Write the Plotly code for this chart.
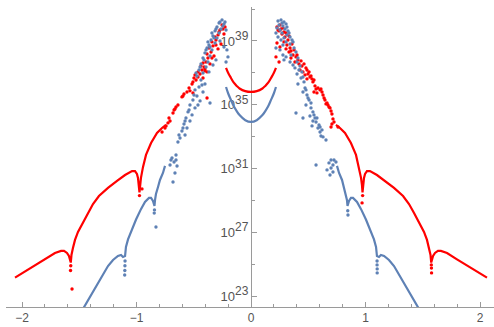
import numpy as np
import plotly.graph_objects as go

BLUE = "#5E81B5"
RED = "#FF0000"

# ---- smooth central U branches (x >= 0 half; mirrored for x < 0), values are log10(y)
u_x = [0.0, 0.05, 0.10, 0.125, 0.15, 0.175, 0.20, 0.218]
red_u_log = [35.80, 35.85, 36.02, 36.18, 36.38, 36.68, 37.00, 37.31]
blue_u_log = [33.92, 34.03, 34.35, 34.60, 34.90, 35.30, 35.72, 36.11]

# ---- outer tails (x > 0 half; mirrored for x < 0)
red_tail_x = [0.742, 0.777, 0.821, 0.873, 0.917, 0.943, 0.961, 0.969, 0.974, 0.987, 0.996,
              1.013, 1.039, 1.100, 1.170, 1.249, 1.328, 1.380, 1.424, 1.467, 1.511, 1.537,
              1.555, 1.568, 1.574, 1.590, 1.607, 1.633, 1.659, 1.712, 1.799, 1.886, 1.974, 2.061]
red_tail_log = [33.73, 33.54, 33.23, 32.60, 31.85, 31.10, 30.41, 29.97, 29.50, 30.41, 30.66,
                30.84, 30.84, 30.59, 30.22, 29.78, 29.27, 28.77, 28.21, 27.64, 27.02, 26.52,
                26.01, 25.57, 25.10, 25.51, 25.70, 25.83, 25.83, 25.70, 25.30, 24.90, 24.55, 24.15]

blue_tail_x = [0.751, 0.769, 0.795, 0.812, 0.830, 0.838, 0.843, 0.856, 0.873, 0.891, 0.926,
               0.961, 1.004, 1.048, 1.074, 1.092, 1.100, 1.118, 1.135, 1.162, 1.205, 1.249,
               1.301, 1.362, 1.415, 1.467, 1.493]
blue_tail_log = [31.16, 30.72, 30.28, 29.84, 29.40, 29.03, 28.65, 28.96, 29.15, 29.15, 28.90,
                 28.45, 27.80, 27.05, 26.55, 26.08, 25.51, 25.45, 25.57, 25.51, 25.26, 24.88,
                 24.26, 23.44, 22.81, 22.19, 21.87]

# ---- scattered points
red_pts_x = [0.227, 0.253, 0.279, 0.245, 0.271, 0.306, 0.297, 0.227, 0.253, 0.288, 0.323, 0.314,
             0.341, 0.358, 0.376, 0.332, 0.367, 0.393, 0.349, 0.410, 0.384, 0.419, 0.445, 0.428,
             0.454, 0.480, 0.472, 0.498, 0.515, 0.489, 0.533, 0.218, 0.245, 0.541,
             0.550, 0.568, 0.585, 0.603, 0.620, 0.629, 0.638, 0.646,
             0.655, 0.664, 0.672, 0.690, 0.699, 0.707, 0.699, 0.707, 0.725,
             0.236, 0.262, 0.288, 0.332, 0.306, 0.349, 0.402, 0.437, 0.463, 0.489,
             0.507, 0.524, 0.550, 0.559, 0.611, 0.576, 0.681, 0.716, 0.760,
             0.975, 0.970, 1.575, 1.576, 1.577,
             -0.227, -0.253, -0.271, -0.236, -0.288, -0.306, -0.262, -0.332, -0.288, -0.349,
             -0.323, -0.376, -0.393, -0.358, -0.410, -0.428, -0.384, -0.445, -0.463, -0.419,
             -0.480, -0.507, -0.384, -0.402, -0.489,
             -0.507, -0.533, -0.559, -0.585, -0.603,
             -0.638, -0.655, -0.672, -0.681, -0.707, -0.725, -0.742,
             -0.245, -0.279, -0.314, -0.341, -0.306, -0.367, -0.384, -0.341, -0.419, -0.437,
             -0.402, -0.463, -0.498, -0.515, -0.541, -0.594, -0.664, -0.716, -0.751, -0.777,
             -0.974, -0.952, -1.574, -1.576, -1.563]
red_pts_log = [39.88, 40.00, 39.82, 39.63, 39.44, 39.50, 39.25, 38.87, 38.62, 38.94, 39.06, 38.75,
               38.56, 38.81, 38.44, 38.31, 38.12, 38.00, 37.93, 37.81, 37.68, 37.56, 37.43, 37.18,
               37.06, 37.31, 36.87, 36.93, 36.74, 36.62, 36.62, 38.00, 37.68, 36.43,
               35.80, 35.99, 36.05, 35.93, 35.80, 35.61, 35.42, 35.30,
               35.05, 35.11, 34.98, 34.80, 34.61, 34.42, 33.60, 33.79, 33.92,
               39.69, 39.75, 39.56, 39.31, 38.50, 38.37, 38.12, 37.75, 37.56, 37.18,
               37.06, 36.80, 36.55, 36.18, 35.99, 35.74, 34.86, 34.11, 33.60,
               29.30, 28.84, 24.95, 24.75, 24.45,
               39.88, 40.00, 39.69, 39.44, 39.38, 39.06, 38.81, 38.69, 38.50, 38.31,
               38.06, 37.93, 37.68, 37.56, 37.37, 37.18, 37.06, 36.93, 36.74, 36.68,
               36.55, 36.43, 35.42, 37.12, 36.87,
               35.74, 35.87, 35.80, 35.67, 35.49,
               34.98, 34.86, 34.67, 34.48, 33.98, 33.86, 33.67,
               39.75, 39.56, 39.25, 38.94, 38.75, 38.56, 38.18, 37.93, 37.62, 37.43,
               37.24, 37.06, 36.68, 36.30, 36.05, 35.55, 34.73, 34.17, 33.54, 33.29,
               29.30, 29.72, 24.90, 24.60, 23.44]

blue_pts_x = [0.236, 0.262, 0.288, 0.245, 0.279, 0.306, 0.227, 0.253, 0.297, 0.323, 0.271, 0.218,
              0.314, 0.341, 0.288, 0.236, 0.358, 0.306, 0.341, 0.218, 0.253, 0.279, 0.306, 0.376,
              0.393, 0.349, 0.410, 0.288, 0.341, 0.367, 0.384, 0.419, 0.402, 0.445, 0.437, 0.463,
              0.410, 0.472, 0.454, 0.489, 0.507, 0.480, 0.524, 0.541, 0.515, 0.559, 0.568, 0.533,
              0.585, 0.393, 0.454, 0.603, 0.611, 0.594, 0.620, 0.655,
              0.568, 0.681, 0.699, 0.716, 0.690, 0.725, 0.742,
              0.271, 0.314, 0.332, 0.367, 0.262, 0.279, 0.402, 0.428, 0.454, 0.480,
              0.498, 0.524, 0.550, 0.576, 0.541, 0.603, 0.629, 0.699, 0.716, 0.664,
              0.845, 0.847, 1.101, 1.101, 1.102, 1.102,
              -0.253, -0.227, -0.279, -0.245, -0.297, -0.262, -0.218, -0.314, -0.279, -0.332,
              -0.297, -0.349, -0.314, -0.367, -0.271, -0.210, -0.201, -0.218, -0.236, -0.384,
              -0.341, -0.402, -0.358, -0.419, -0.376, -0.306, -0.437, -0.393, -0.454, -0.419,
              -0.472, -0.367, -0.437, -0.402, -0.454, -0.489, -0.419, -0.472, -0.507, -0.445,
              -0.358, -0.533, -0.489, -0.550, -0.515, -0.568, -0.533, -0.585, -0.559, -0.603,
              -0.576, -0.620, -0.655, -0.690, -0.672, -0.707, -0.646, -0.664, -0.681,
              -0.271, -0.236, -0.306, -0.341, -0.323, -0.376, -0.393, -0.358, -0.410, -0.332,
              -0.445, -0.480, -0.428, -0.498, -0.463, -0.541, -0.576, -0.594, -0.629, -0.638,
              -0.699, -0.655,
              -0.843, -0.845, -1.100, -1.101, -1.102, -1.103, -0.830]
blue_pts_log = [40.25, 40.32, 40.19, 40.00, 39.94, 40.07, 39.82, 39.69, 39.75, 39.63, 39.50, 39.50,
                39.38, 39.25, 39.19, 39.25, 39.06, 38.94, 38.81, 38.56, 38.44, 38.12, 38.00, 38.56,
                38.31, 38.12, 37.93, 37.81, 37.68, 37.49, 37.31, 37.18, 36.93, 37.06, 36.68, 36.43,
                36.30, 36.05, 35.80, 35.61, 35.30, 34.98, 34.80, 34.55, 34.29, 34.17, 33.92, 33.67,
                33.54, 34.48, 34.17, 33.29, 33.04, 33.73, 33.42, 32.79,
                31.22, 31.35, 31.03, 30.78, 30.59, 31.53, 31.41,
                40.13, 39.88, 39.50, 38.94, 39.06, 38.75, 37.68, 37.43, 36.74, 35.93,
                35.42, 35.11, 34.36, 34.17, 33.98, 33.60, 32.98, 31.53, 31.22, 30.91,
                28.35, 28.08, 25.20, 24.95, 24.70, 24.45,
                40.32, 40.19, 40.13, 39.94, 39.88, 39.75, 39.69, 39.63, 39.50, 39.31,
                39.19, 39.06, 38.87, 38.75, 39.00, 38.44, 38.00, 37.68, 38.62, 38.56,
                38.44, 38.25, 38.06, 37.93, 37.68, 37.81, 37.56, 37.37, 37.18, 36.99,
                36.80, 37.06, 36.55, 36.30, 36.11, 35.93, 35.80, 35.55, 35.30, 35.24,
                35.11, 34.98, 34.80, 34.55, 34.36, 34.17, 33.98, 33.79, 33.54, 33.35,
                33.10, 32.91, 31.85, 31.66, 31.41, 31.22, 31.16, 30.72, 30.15,
                40.19, 40.07, 39.75, 39.50, 39.19, 38.94, 38.44, 38.62, 37.81, 37.49,
                37.37, 36.99, 36.24, 35.61, 34.98, 34.67, 33.98, 33.54, 33.10, 32.66,
                31.53, 31.53,
                28.40, 28.20, 25.20, 24.90, 24.60, 24.32, 27.33]

# ---- axis ticks
x_major = [-2, -1, 0, 1, 2]
y_major_exp = [23, 27, 31, 35, 39]
y_minor_exp = [25, 29, 33, 37, 41]


def mirror(xs, ls):
    xs = list(xs)
    ls = list(ls)
    return [-v for v in xs[::-1]], ls[::-1]


def pw(ls):
    return list(10.0 ** np.array(ls, dtype=float))


fig = go.Figure()

line_w = 2.2
# U curves
for logs, col in [(red_u_log, RED), (blue_u_log, BLUE)]:
    mx, ml = mirror(u_x, logs)
    xs = mx + list(u_x[1:])
    ls = ml + list(logs[1:])
    fig.add_trace(go.Scatter(x=xs, y=pw(ls), mode="lines",
                             line=dict(color=col, width=line_w, shape="spline"),
                             hoverinfo="skip"))

# tails
for tx, tl, col in [(red_tail_x, red_tail_log, RED), (blue_tail_x, blue_tail_log, BLUE)]:
    fig.add_trace(go.Scatter(x=tx, y=pw(tl), mode="lines",
                             line=dict(color=col, width=line_w), hoverinfo="skip"))
    mx, ml = mirror(tx, tl)
    fig.add_trace(go.Scatter(x=mx, y=pw(ml), mode="lines",
                             line=dict(color=col, width=line_w), hoverinfo="skip"))

# scattered points
fig.add_trace(go.Scatter(x=red_pts_x, y=pw(red_pts_log), mode="markers",
                         marker=dict(color=RED, size=3.4, line=dict(width=0)),
                         hoverinfo="skip"))
fig.add_trace(go.Scatter(x=blue_pts_x, y=pw(blue_pts_log), mode="markers",
                         marker=dict(color=BLUE, size=3.4, line=dict(width=0)),
                         hoverinfo="skip"))

AX = "#9a9a9a"
TXT = "#555555"
FONT = "Liberation Sans, Arial, sans-serif"

x_lo, x_hi = -2.1397, 2.1223
fig.update_layout(
    width=494, height=327,
    margin=dict(l=6, r=0, t=7, b=20),
    plot_bgcolor="white", paper_bgcolor="white",
    showlegend=False,
    font=dict(family=FONT, size=12, color=TXT),
    xaxis=dict(
        range=[x_lo, x_hi], showgrid=False, zeroline=False, automargin=False,
        showline=True, linecolor=AX, linewidth=1,
        tickmode="array", tickvals=x_major,
        ticks="inside", ticklen=5, tickcolor=AX, tickwidth=1,
        tickfont=dict(family=FONT, size=12, color=TXT),
        minor=dict(tickmode="linear", tick0=0, dtick=0.2, ticks="inside",
                   ticklen=3, tickcolor=AX, tickwidth=1, showgrid=False),
        layer="below traces",
    ),
    yaxis=dict(
        type="log", range=[22.31, 41.13], showgrid=False, zeroline=False, automargin=False,
        anchor="free", position=(0 - x_lo) / (x_hi - x_lo),
        showline=True, linecolor=AX, linewidth=1,
        tickmode="array",
        tickvals=[10.0 ** e for e in y_major_exp],
        ticktext=["10<sup><span style='font-size:12px'>%d</span></sup>" % e for e in y_major_exp],
        ticks="inside", ticklen=5, tickcolor=AX, tickwidth=1,
        tickfont=dict(family=FONT, size=13, color=TXT),
        minor=dict(tickmode="array", tickvals=[10.0 ** e for e in y_minor_exp],
                   ticks="inside", ticklen=3, tickcolor=AX, tickwidth=1, showgrid=False),
        layer="below traces",
    ),
)

fig.write_html("out.html", config={"displayModeBar": False},
               post_script="document.body.style.margin='0px';document.body.style.overflow='hidden';")
